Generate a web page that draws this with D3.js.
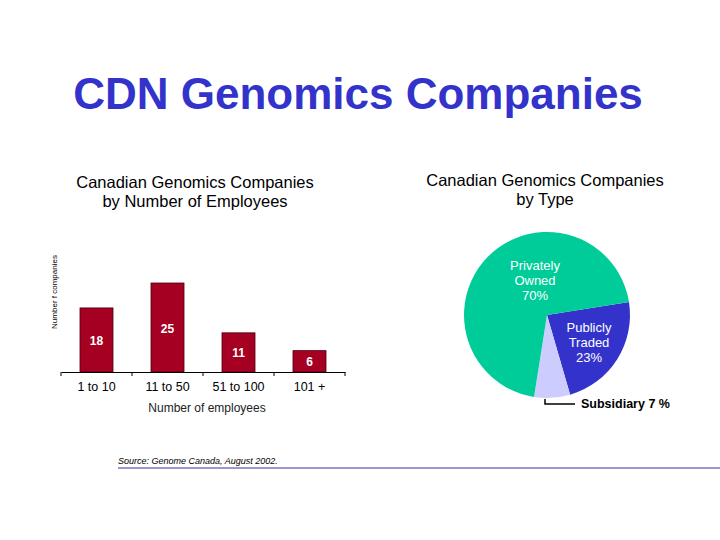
<!DOCTYPE html>
<html><head><meta charset="utf-8">
<script src="https://cdn.jsdelivr.net/npm/d3@7"></script>
<style>body{margin:0;background:#fff}</style></head>
<body><script>
const categories=["1 to 10","11 to 50","51 to 100","101 +"];
const counts=[18,25,11,6];
const pieLabels=["Publicly Traded","Subsidiary","Privately Owned"];
const pieValues=[23,7,70];
const pieColors=["#3333cc","#ccccff","#00cc99"];

const svg=d3.select("body").append("svg").attr("width",720).attr("height",540);
const F="Arial, 'Liberation Sans', sans-serif";
svg.append("text").attr("x",358).attr("y",109).attr("text-anchor","middle").attr("font-family",F)
 .attr("font-weight","bold").attr("font-size",44).attr("fill","#3333cc").text("CDN Genomics Companies");
function multi(x,y,lines,size,opts={}){const t=svg.append("text").attr("x",x).attr("y",y).attr("text-anchor","middle")
 .attr("font-family",F).attr("font-size",size).attr("fill",opts.fill||"#000").attr("font-weight",opts.w||"normal");
 lines.forEach((l,i)=>t.append("tspan").attr("x",x).attr("dy",i?size*1.15:0).text(l));}
multi(195,188,["Canadian Genomics Companies","by Number of Employees"],16.5);
multi(545,186,["Canadian Genomics Companies","by Type"],16.5);

// bars
const x=d3.scaleBand().domain(categories).range([61,345]).paddingInner(0.535).paddingOuter(0.2675);
const y=d3.scaleLinear().domain([0,25]).range([372,283]);
const g=svg.append("g");
g.selectAll("rect").data(counts).join("rect").attr("x",(d,i)=>x(categories[i])).attr("width",x.bandwidth())
 .attr("y",d=>y(d)).attr("height",d=>y(0)-y(d)).attr("fill","#a50021").attr("stroke","#4a0010").attr("stroke-width",0.8);
g.selectAll(".v").data(counts).join("text").attr("x",(d,i)=>x(categories[i])+x.bandwidth()/2)
 .attr("y",d=>(y(d)+y(0))/2+5).attr("text-anchor","middle").attr("font-family",F).attr("font-weight","bold")
 .attr("font-size",12).attr("fill","#fff").text(d=>d);
const ax=svg.append("g").attr("transform","translate(0,372)").call(d3.axisBottom(x).tickSize(0).tickPadding(10));
ax.select(".domain").attr("stroke","#000");
ax.selectAll("text").attr("font-family",F).attr("font-size",12.5).attr("fill","#000");
const step=x.step();
ax.selectAll(".sep").data(d3.range(5)).join("line").attr("x1",d=>61+d*step).attr("x2",d=>61+d*step)
 .attr("y1",0).attr("y2",4).attr("stroke","#000");
svg.append("text").attr("x",207).attr("y",412).attr("text-anchor","middle").attr("font-family",F)
 .attr("font-size",12).attr("fill","#222").text("Number of employees");
svg.append("text").attr("transform","translate(57,292) rotate(-90)").attr("text-anchor","middle")
 .attr("font-family",F).attr("font-size",8).text("Number f companies");

// pie
const pie=d3.pie().sort(null).startAngle(81*Math.PI/180).endAngle(441*Math.PI/180)(pieValues);
const arc=d3.arc().innerRadius(0).outerRadius(83);
const pg=svg.append("g").attr("transform","translate(547,315)");
pg.selectAll("path").data(pie).join("path").attr("d",arc).attr("fill",(d,i)=>pieColors[i]);
multi(535,270,["Privately","Owned","70%"],13,{fill:"#fff"});
multi(589,332,["Publicly","Traded","23%"],13,{fill:"#fff"});
svg.append("path").attr("d","M545,399 V404 H575").attr("fill","none").attr("stroke","#000").attr("stroke-width",1.5);
svg.append("text").attr("x",581).attr("y",408).attr("font-family",F).attr("font-weight","bold").attr("font-size",12.5).text("Subsidiary 7 %");

// source & rule
svg.append("text").attr("x",118).attr("y",464).attr("font-family",F).attr("font-style","italic").attr("font-size",9).text("Source: Genome Canada, August 2002.");
svg.append("line").attr("x1",118).attr("x2",720).attr("y1",468).attr("y2",468).attr("stroke","#333399").attr("stroke-width",1);
</script></body></html>
